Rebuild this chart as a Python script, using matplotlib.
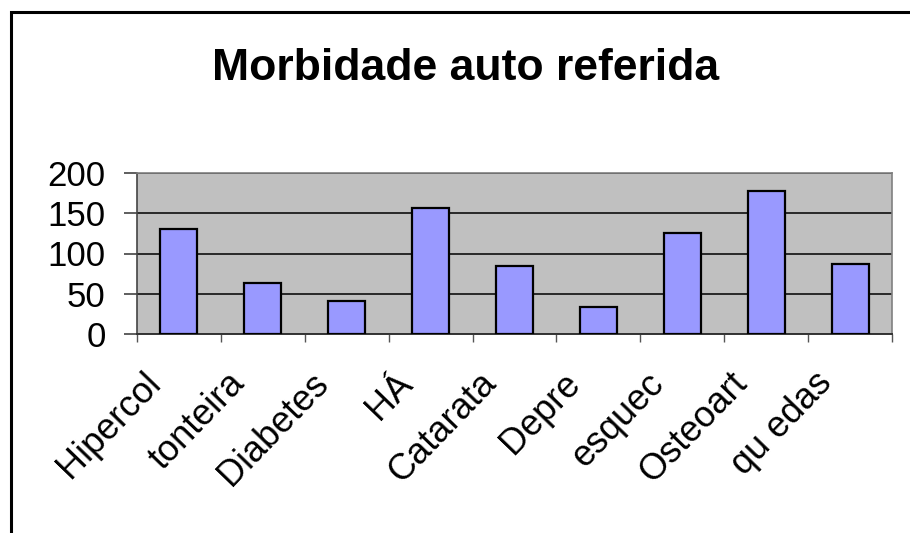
import matplotlib
matplotlib.use("Agg")
import matplotlib.pyplot as plt
import matplotlib.patches as patches
import matplotlib.transforms as mtransforms
import numpy as np

# data
categories = ["Hipercol", "tonteira", "Diabetes", "HÁ", "Catarata",
              "Depre", "esquec", "Osteoart", "qu edas"]
values = [130, 63, 41, 157, 84, 34, 126, 178, 87]
y_ticks = [0, 50, 100, 150, 200]
title = "Morbidade auto referida"

plt.rcParams['font.family'] = ['Liberation Sans', 'DejaVu Sans']

W, H = 910, 533
fig = plt.figure(figsize=(W / 100, H / 100), dpi=100)
fig.patch.set_facecolor('white')

# outer chart frame (cut off on the right and bottom)
frame = patches.Rectangle((11 / W, -0.2), 2.0, 1.2 - 12 / H,
                          transform=fig.transFigure, fill=False,
                          edgecolor='black', linewidth=2.2, zorder=0)
fig.patches.append(frame)

fig.text(465.5 / W, 1 - 80 / H, title, ha='center', va='baseline',
         fontsize=32, fontweight='bold')

ax = fig.add_axes([137 / W, 1 - 334 / H, (892 - 137) / W, (334 - 173) / H])
ax.set_facecolor('#c0c0c0')

x = np.arange(len(categories))
ax.bar(x, values, width=0.44, color='#9999ff', edgecolor='black',
       linewidth=1.6, zorder=3)

ax.set_xlim(-0.5, len(categories) - 0.5)
ax.set_ylim(0, 200)
ax.set_yticks(y_ticks)
ax.yaxis.grid(True, color='black', linewidth=1.1, zorder=1)
ax.set_axisbelow(True)

ax.tick_params(axis='y', direction='out', length=9.5, width=1.1,
               color='#333333', pad=13, labelsize=25)

# category boundary ticks
ax.set_xticks(np.arange(-0.5, len(categories)), minor=True)
ax.tick_params(axis='x', which='minor', direction='out', length=6,
               width=1, color='#555555')
ax.set_xticks(x)
ax.set_xticklabels(categories, rotation=46, ha='right', va='center',
                   rotation_mode='anchor', fontsize=26)
ax.tick_params(axis='x', which='major', length=0, pad=0)
offset = mtransforms.ScaledTranslation(-24 / 100, -44 / 100, fig.dpi_scale_trans)
for lab in ax.get_xticklabels():
    lab.set_transform(lab.get_transform() + offset)

for side in ['top', 'right']:
    ax.spines[side].set_color('#808080')
    ax.spines[side].set_linewidth(1.2)
ax.spines['left'].set_color('#444444')
ax.spines['left'].set_linewidth(1.2)
ax.spines['bottom'].set_color('#333333')
ax.spines['bottom'].set_linewidth(1.4)

fig.savefig("out.png", dpi=100)
